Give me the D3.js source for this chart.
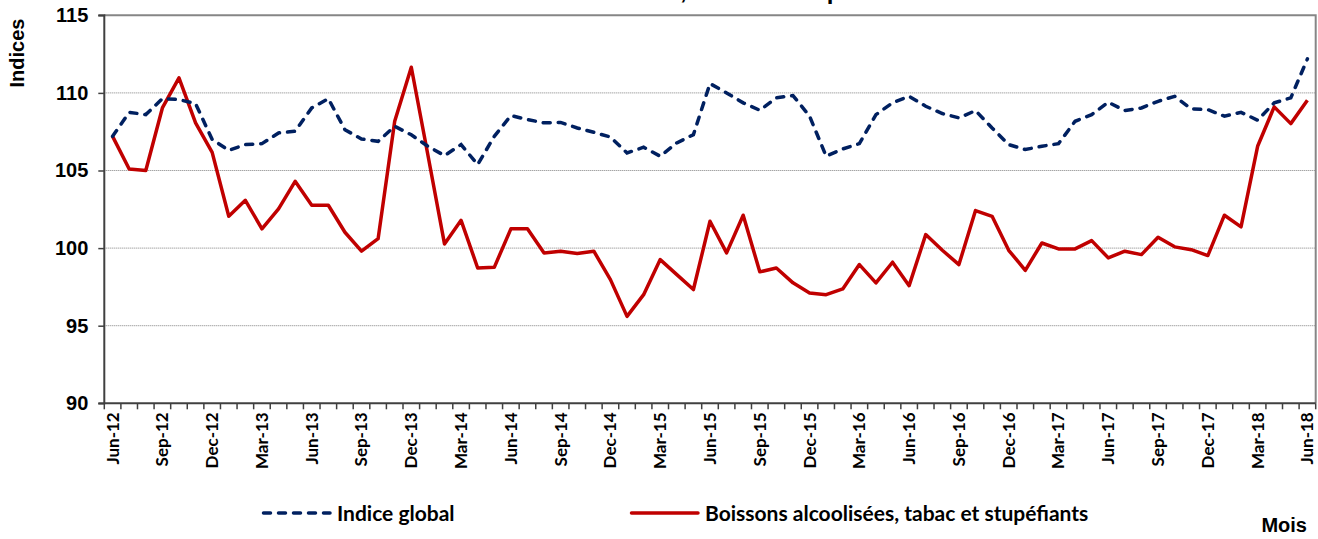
<!DOCTYPE html>
<html>
<head>
<meta charset="utf-8">
<script src="https://cdn.jsdelivr.net/npm/d3@7"></script>
<style>
  body { margin: 0; background: #fff; }
  svg { display: block; }
</style>
</head>
<body>
<div id="chart"></div>
<script>
// months on the x axis (one point per month)
const months = [
  "Jun-12","Jul-12","Aug-12","Sep-12","Oct-12","Nov-12","Dec-12",
  "Jan-13","Feb-13","Mar-13","Apr-13","May-13","Jun-13","Jul-13","Aug-13","Sep-13","Oct-13","Nov-13","Dec-13",
  "Jan-14","Feb-14","Mar-14","Apr-14","May-14","Jun-14","Jul-14","Aug-14","Sep-14","Oct-14","Nov-14","Dec-14",
  "Jan-15","Feb-15","Mar-15","Apr-15","May-15","Jun-15","Jul-15","Aug-15","Sep-15","Oct-15","Nov-15","Dec-15",
  "Jan-16","Feb-16","Mar-16","Apr-16","May-16","Jun-16","Jul-16","Aug-16","Sep-16","Oct-16","Nov-16","Dec-16",
  "Jan-17","Feb-17","Mar-17","Apr-17","May-17","Jun-17","Jul-17","Aug-17","Sep-17","Oct-17","Nov-17","Dec-17",
  "Jan-18","Feb-18","Mar-18","Apr-18","May-18","Jun-18"
];

const tickLabels = [
  "Jun-12","Sep-12","Dec-12","Mar-13","Jun-13","Sep-13","Dec-13","Mar-14","Jun-14",
  "Sep-14","Dec-14","Mar-15","Jun-15","Sep-15","Dec-15","Mar-16","Jun-16","Sep-16",
  "Dec-16","Mar-17","Jun-17","Sep-17","Dec-17","Mar-18","Jun-18"
];

const yTicks = [90, 95, 100, 105, 110, 115];

const indiceGlobal = [
  107.2, 108.75, 108.6, 109.63, 109.57, 109.31, 107.0,
  106.3, 106.67, 106.73, 107.42, 107.53, 109.03, 109.63, 107.63, 107.03, 106.88, 107.85, 107.3,
  106.56, 105.96, 106.67, 105.38, 107.2, 108.54, 108.28, 108.07, 108.1, 107.74, 107.46, 107.16,
  106.13, 106.5, 105.92, 106.78, 107.31, 110.6, 110.0, 109.36, 108.88, 109.68, 109.83, 108.5,
  105.92, 106.39, 106.73, 108.6, 109.36, 109.78, 109.14, 108.67, 108.39, 108.86, 107.74, 106.67,
  106.35, 106.56, 106.73, 108.17, 108.6, 109.4, 108.86, 109.03, 109.46, 109.78, 108.97, 108.92,
  108.5, 108.75, 108.24, 109.36, 109.68, 112.19
];

const boissons = [
  107.2, 105.1, 105.0, 109.03, 110.97, 108.07, 106.17,
  102.05, 103.08, 101.24, 102.53, 104.3, 102.76, 102.76, 101.02, 99.8, 100.61, 108.17, 111.65,
  106.0, 100.27, 101.79, 98.72, 98.76, 101.24, 101.24, 99.69, 99.8, 99.65, 99.8, 97.97,
  95.6, 97.0, 99.26, 98.29, 97.33, 101.73, 99.69, 102.12, 98.47, 98.72, 97.76, 97.11,
  97.0, 97.37, 98.94, 97.76, 99.09, 97.58, 100.87, 99.86, 98.94, 102.42, 102.05, 99.86,
  98.57, 100.33, 99.95, 99.95, 100.48, 99.37, 99.8, 99.58, 100.7, 100.08, 99.9, 99.52,
  102.12, 101.37, 106.56, 109.1, 108.02, 109.52
];

const W = 1318, H = 539;
const margin = { top: 15.3, right: 2.3, bottom: 135.7, left: 104.3 };
const width = W - margin.left - margin.right;
const height = H - margin.top - margin.bottom;

const arial = "'Liberation Sans', Arial, sans-serif";
const calibri = "Lato, 'Open Sans', sans-serif";

const svg = d3.select("#chart").append("svg")
  .attr("width", W)
  .attr("height", H);

// title, mostly cut off at the top edge as in the source
svg.append("text")
  .attr("x", 436).attr("y", -1)
  .style("font-family", arial).style("font-weight", "bold").style("font-size", "24px")
  .text("Boissons alcoolisées, tabac et stupéfiants");

const g = svg.append("g")
  .attr("transform", `translate(${margin.left},${margin.top})`);

let x = d3.scaleBand()
  .domain(months)
  .range([0, width]);

let y = d3.scaleLinear()
  .domain([90, 115])
  .range([height, 0]);

// gridlines
g.append("g")
  .selectAll("line")
  .data(yTicks.filter(d => d > 90 && d < 115))
  .enter().append("line")
  .attr("x1", 0).attr("x2", width)
  .attr("y1", d => y(d)).attr("y2", d => y(d))
  .attr("stroke", "#7f7f7f")
  .attr("stroke-width", 1)
  .attr("stroke-dasharray", "1,1");

// top and right border of plot area
g.append("path")
  .attr("d", `M0,${y(115)}H${width}V${height}`)
  .attr("fill", "none")
  .attr("stroke", "#868686")
  .attr("stroke-width", 2);

// y axis
let yAxis = d3.axisLeft(y)
  .tickValues(yTicks)
  .tickSize(6)
  .tickPadding(10);

const ya = g.append("g").call(yAxis);
ya.select(".domain").attr("stroke", "#404040").attr("stroke-width", 2)
  .attr("d", `M-6,${y(115)}H0V${height}H-6`);
ya.selectAll(".tick line").attr("stroke", "#404040").attr("stroke-width", 1.5);
ya.selectAll("text")
  .style("font-family", arial).style("font-weight", "bold").style("font-size", "20px")
  .attr("fill", "#000");

// x axis labels (every 3rd month)
let xAxis = d3.axisBottom(x)
  .tickValues(tickLabels)
  .tickSize(0);

const xa = g.append("g")
  .attr("transform", `translate(0,${height})`)
  .call(xAxis);
xa.select(".domain").remove();
xa.selectAll("text")
  .attr("transform", "rotate(-90)")
  .attr("x", -9)
  .attr("y", 0)
  .attr("dy", "0.35em")
  .style("text-anchor", "end")
  .style("font-family", calibri).style("font-weight", "bold").style("font-size", "17px")
  .attr("fill", "#000");

// x axis line and tick marks between months
g.append("line")
  .attr("x1", 0).attr("x2", width)
  .attr("y1", height).attr("y2", height)
  .attr("stroke", "#404040").attr("stroke-width", 2);

g.append("g")
  .selectAll("line")
  .data(months.concat(["end"]))
  .enter().append("line")
  .attr("x1", d => d === "end" ? width : x(d))
  .attr("x2", d => d === "end" ? width : x(d))
  .attr("y1", height).attr("y2", height + 6)
  .attr("stroke", "#404040").attr("stroke-width", 1.5);

// lines
let line = d3.line()
  .x((d, i) => x(months[i]) + x.bandwidth() / 2)
  .y(d => y(d));

g.append("path")
  .datum(boissons)
  .attr("d", line)
  .attr("fill", "none")
  .attr("stroke", "#c00000")
  .attr("stroke-width", 3.5)
  .attr("stroke-linejoin", "round");

g.append("path")
  .datum(indiceGlobal)
  .attr("d", line)
  .attr("fill", "none")
  .attr("stroke", "#002060")
  .attr("stroke-width", 3.5)
  .attr("stroke-linecap", "round")
  .attr("stroke-dasharray", "7,8");

// axis titles
svg.append("text")
  .attr("transform", "translate(24,53) rotate(-90)")
  .style("text-anchor", "middle")
  .style("font-family", arial).style("font-weight", "bold").style("font-size", "20px")
  .text("Indices");

svg.append("text")
  .attr("x", 1307).attr("y", 532)
  .style("text-anchor", "end")
  .style("font-family", arial).style("font-weight", "bold").style("font-size", "20px")
  .text("Mois");

// legend
const legend = [
  { name: "Indice global", color: "#002060", dash: "7,8", x: 262 },
  { name: "Boissons alcoolisées, tabac et stupéfiants", color: "#c00000", dash: null, x: 630 }
];

const lg = svg.append("g").selectAll("g")
  .data(legend)
  .enter().append("g")
  .attr("transform", d => `translate(${d.x},513)`);

lg.append("line")
  .attr("x1", 1.5).attr("x2", 68)
  .attr("stroke", d => d.color)
  .attr("stroke-width", 3.5)
  .attr("stroke-linecap", "round")
  .attr("stroke-dasharray", d => d.dash);

lg.append("text")
  .attr("x", 75).attr("y", 7.5)
  .style("font-family", calibri).style("font-weight", "bold").style("font-size", "21px")
  .text(d => d.name);
</script>
</body>
</html>
